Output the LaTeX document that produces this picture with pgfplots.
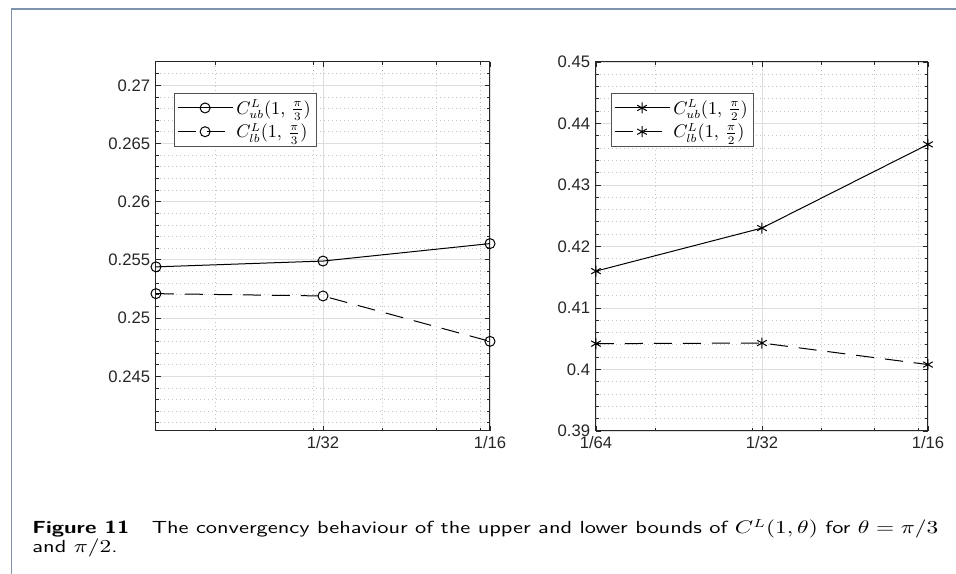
\documentclass[border=0pt]{standalone}
\usepackage{pgfplots}
\pgfplotsset{compat=1.18}
\usepackage{fontspec}
\newfontfamily\helv{Liberation Sans}
\definecolor{axc}{HTML}{262626}
\definecolor{gmaj}{HTML}{DEDEDE}
\definecolor{gmin}{HTML}{C4C4C4}
\definecolor{framec}{HTML}{7F93AD}

\begin{document}
\begin{tikzpicture}
\path[use as bounding box] (0pt,0pt) rectangle (573.6pt,-344.4pt);
\draw[framec, line width=0.9pt] (7pt,-344.4pt) -- (7pt,-5.4pt) -- (573.6pt,-5.4pt);

\begin{axis}[scale only axis, width=200.4pt, height=221.4pt, anchor=north west,
  at={(93.6pt,-37.2pt)},
  xmode=log, xmin=0.015625, xmax=0.0625,
  minor xtick={0.02,0.03,0.04,0.05,0.06},
  grid=both,
  major grid style={gmaj, line width=0.5pt},
  minor grid style={gmin, dotted, line width=0.5pt},
  axis line style={axc, line width=0.6pt},
  major tick length=3.2pt, minor tick length=2pt,
  tick align=inside, tick style={axc, line width=0.5pt},
  ticklabel style={font=\helv\fontsize{10}{12}\selectfont, text=axc},
  legend cell align=left,
  legend style={draw=axc!80, line width=0.7pt, font=\fontsize{10.5}{12}\selectfont,
    inner sep=1.5pt, at={(0.054,0.916)}, anchor=north west},
  legend image code/.code={
    \draw[mark repeat=2,mark phase=2,#1] plot coordinates {(0cm,0cm) (0.58cm,0cm) (1.16cm,0cm)};
  },
  ymin=0.2403, ymax=0.272,
  ytick={0.245,0.25,0.255,0.26,0.265,0.27},
  yticklabels={0.245,0.25,0.255,0.26,0.265,0.27},
  minor ytick={0.241,0.242,0.243,0.244,0.246,0.247,0.248,0.249,0.251,0.252,0.253,0.254,0.256,0.257,0.258,0.259,0.261,0.262,0.263,0.264,0.266,0.267,0.268,0.269,0.271},
  xtick={0.03125,0.0625}, xticklabels={1/32,1/16}]
\addplot[black, line width=0.6pt, mark=o, mark size=3pt] coordinates {
  (0.015625,0.2544) (0.03125,0.2549) (0.0625,0.2564)};
\addlegendentry{$C^L_{ub}(1,\,\frac{\pi}{3})$}
\addplot[black, line width=0.6pt, dash pattern=on 10.8pt off 6.6pt, mark=o, mark size=3pt, mark options={solid}] coordinates {
  (0.015625,0.2521) (0.03125,0.2519) (0.0625,0.2480)};
\addlegendentry{$C^L_{lb}(1,\,\frac{\pi}{3})$}
\end{axis}

\begin{axis}[scale only axis, width=199.2pt, height=221.4pt, anchor=north west,
  at={(357.6pt,-37.2pt)},
  xmode=log, xmin=0.015625, xmax=0.0625,
  minor xtick={0.02,0.03,0.04,0.05,0.06},
  grid=both,
  major grid style={gmaj, line width=0.5pt},
  minor grid style={gmin, dotted, line width=0.5pt},
  axis line style={axc, line width=0.6pt},
  major tick length=3.2pt, minor tick length=2pt,
  tick align=inside, tick style={axc, line width=0.5pt},
  ticklabel style={font=\helv\fontsize{10}{12}\selectfont, text=axc},
  legend cell align=left,
  legend style={draw=axc!80, line width=0.7pt, font=\fontsize{10.5}{12}\selectfont,
    inner sep=1.5pt, at={(0.045,0.916)}, anchor=north west},
  legend image code/.code={
    \draw[mark repeat=2,mark phase=2,#1] plot coordinates {(0cm,0cm) (0.58cm,0cm) (1.16cm,0cm)};
  },
  ymin=0.39, ymax=0.45,
  ytick={0.39,0.40,0.41,0.42,0.43,0.44,0.45},
  yticklabels={0.39,0.4,0.41,0.42,0.43,0.44,0.45},
  minor ytick={0.392,0.394,0.396,0.398,0.402,0.404,0.406,0.408,0.412,0.414,0.416,0.418,0.422,0.424,0.426,0.428,0.432,0.434,0.436,0.438,0.442,0.444,0.446,0.448},
  xtick={0.015625,0.03125,0.0625}, xticklabels={1/64,1/32,1/16}]
\addplot[black, line width=0.6pt, mark=asterisk, mark size=3.3pt] coordinates {
  (0.015625,0.4160) (0.03125,0.4230) (0.0625,0.4366)};
\addlegendentry{$C^L_{ub}(1,\,\frac{\pi}{2})$}
\addplot[black, line width=0.6pt, dash pattern=on 10.8pt off 6.6pt, mark=asterisk, mark size=3.3pt, mark options={solid}] coordinates {
  (0.015625,0.4042) (0.03125,0.4043) (0.0625,0.4008)};
\addlegendentry{$C^L_{lb}(1,\,\frac{\pi}{2})$}
\end{axis}

\node[anchor=base west, inner sep=0pt, font=\sffamily\fontsize{10.5}{12}\selectfont, xscale=1.28, transform shape] at (19.2pt,-320.4pt)
  {\textbf{Figure 11}\hspace{1em}The convergency behaviour of the upper and lower bounds of $C^L(1,\theta)$ for $\theta=\pi/3$};
\node[anchor=base west, inner sep=0pt, font=\sffamily\fontsize{10.5}{12}\selectfont, xscale=1.28, transform shape] at (19.2pt,-331.8pt)
  {and $\pi/2$.};
\end{tikzpicture}
\end{document}
